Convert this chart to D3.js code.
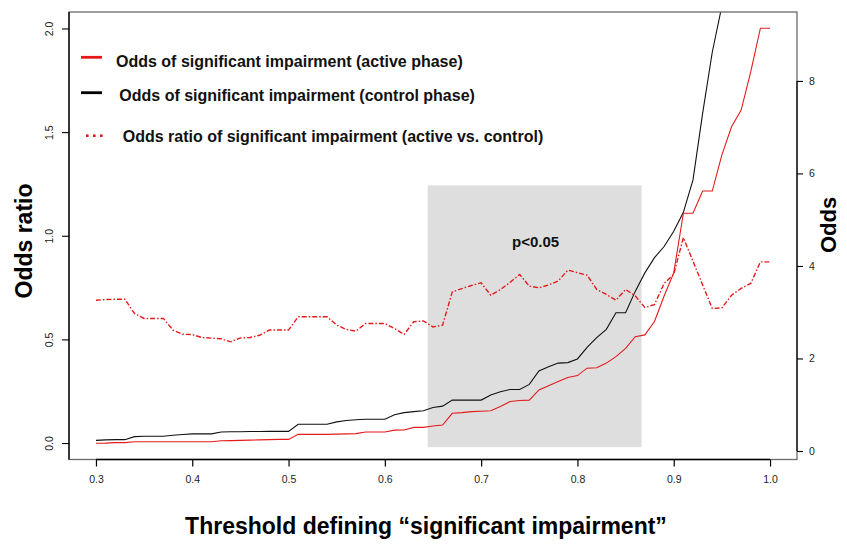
<!DOCTYPE html>
<html>
<head>
<meta charset="utf-8">
<script src="https://cdn.jsdelivr.net/npm/d3@7"></script>
<style>
  html, body { margin: 0; padding: 0; background: #fff; }
  svg { display: block; font-family: "Liberation Sans", Arial, Helvetica, sans-serif; }
</style>
</head>
<body>
<svg id="chart" width="847" height="552"></svg>
<script>
// ---------------- data ----------------
const thresholds = [0.30,0.31,0.32,0.33,0.34,0.35,0.36,0.37,0.38,0.39,
  0.40,0.41,0.42,0.43,0.44,0.45,0.46,0.47,0.48,0.49,
  0.50,0.51,0.52,0.53,0.54,0.55,0.56,0.57,0.58,0.59,
  0.60,0.61,0.62,0.63,0.64,0.65,0.66,0.67,0.68,0.69,
  0.70,0.71,0.72,0.73,0.74,0.75,0.76,0.77,0.78,0.79,
  0.80,0.81,0.82,0.83,0.84,0.85,0.86,0.87,0.88,0.89,
  0.90,0.91,0.92,0.93,0.94,0.95,0.96,0.97,0.98,0.99,1.00];

// Odds of significant impairment, active phase (right axis)
const oddsActive = [0.166,0.17,0.18,0.18,0.20,0.20,0.20,0.20,0.20,0.20,
  0.20,0.20,0.20,0.22,0.225,0.23,0.235,0.24,0.245,0.25,
  0.25,0.36,0.36,0.36,0.36,0.365,0.37,0.375,0.41,0.41,
  0.41,0.45,0.455,0.51,0.51,0.54,0.56,0.815,0.83,0.85,
  0.86,0.87,0.96,1.07,1.09,1.10,1.32,1.41,1.50,1.59,
  1.63,1.79,1.80,1.90,2.04,2.22,2.47,2.51,2.80,3.35,
  3.85,5.14,5.14,5.62,5.62,6.40,7.01,7.37,8.20,9.14,9.14];

// Odds of significant impairment, control phase (right axis)
const oddsControl = [0.23,0.24,0.245,0.245,0.31,0.32,0.32,0.32,0.34,0.355,
  0.37,0.37,0.37,0.41,0.415,0.415,0.42,0.42,0.425,0.425,
  0.425,0.577,0.577,0.577,0.577,0.63,0.66,0.675,0.685,0.685,
  0.685,0.785,0.83,0.85,0.87,0.94,0.97,1.10,1.10,1.10,
  1.10,1.21,1.28,1.33,1.33,1.44,1.73,1.82,1.90,1.91,
  1.99,2.24,2.45,2.63,2.99,2.99,3.45,3.85,4.18,4.42,
  4.75,5.16,5.86,7.30,8.62,9.62,9.83,9.88,10.65,10.46,10.46];

// Odds ratio (active vs. control) (left axis)
const oddsRatio = [0.689,0.692,0.694,0.694,0.625,0.601,0.601,0.601,0.545,0.525,
  0.523,0.509,0.506,0.503,0.488,0.507,0.509,0.520,0.545,0.545,
  0.545,0.609,0.609,0.609,0.609,0.569,0.548,0.540,0.577,0.577,
  0.577,0.552,0.524,0.585,0.589,0.560,0.569,0.729,0.745,0.760,
  0.773,0.713,0.740,0.775,0.813,0.757,0.749,0.762,0.782,0.834,
  0.822,0.810,0.741,0.717,0.689,0.741,0.710,0.654,0.668,0.770,
  0.814,0.991,0.877,0.763,0.649,0.652,0.713,0.746,0.770,0.874,0.874];

const xTicks = [0.3,0.4,0.5,0.6,0.7,0.8,0.9,1.0];
const leftTicks = [0.0,0.5,1.0,1.5,2.0];
const rightTicks = [0,2,4,6,8];

// significance band (threshold range and left-axis extent)
const bandX = [0.6445, 0.8666];
const bandY = [-0.02, 1.243];
const bandLabel = "p<0.05";

const legendItems = [
  {label: "Odds of significant impairment (active phase)", kind: "active"},
  {label: "Odds of significant impairment (control phase)", kind: "control"},
  {label: "Odds ratio of significant impairment (active vs. control)", kind: "ratio"}
];

// ---------------- layout ----------------
const RED = "#e31b1b";
const box = {left: 69, right: 797, top: 12, bottom: 459.5};
const svg = d3.select("#chart");

const x = d3.scaleLinear().domain([0.272, 1.028]).range([box.left, box.right]);
const yL = d3.scaleLinear().domain([-0.0795, 2.0795]).range([box.bottom, box.top]);
const yR = d3.scaleLinear().domain([-0.184, 9.49]).range([box.bottom, box.top]);

svg.append("defs").append("clipPath").attr("id", "plotclip")
  .append("rect").attr("x", box.left).attr("y", box.top)
  .attr("width", box.right - box.left).attr("height", box.bottom - box.top);

// band
svg.append("rect")
  .attr("x", x(bandX[0])).attr("width", x(bandX[1]) - x(bandX[0]))
  .attr("y", yL(bandY[1])).attr("height", yL(bandY[0]) - yL(bandY[1]))
  .attr("fill", "#dedede");

svg.append("text")
  .attr("x", (x(bandX[0]) + x(bandX[1])) / 2 + 1).attr("y", 247)
  .attr("text-anchor", "middle").attr("font-weight", "bold").attr("font-size", 15)
  .attr("fill", "#111").text(bandLabel);

// lines
const plot = svg.append("g").attr("clip-path", "url(#plotclip)");
const lineR = (arr) => d3.line().x((d, i) => x(thresholds[i])).y(d => yR(d))(arr);
const lineL = (arr) => d3.line().x((d, i) => x(thresholds[i])).y(d => yL(d))(arr);

plot.append("path").attr("d", lineR(oddsControl))
  .attr("fill", "none").attr("stroke", "#111").attr("stroke-width", 1.1);
plot.append("path").attr("d", lineR(oddsActive))
  .attr("fill", "none").attr("stroke", RED).attr("stroke-width", 1.1);
plot.append("path").attr("d", lineL(oddsRatio))
  .attr("fill", "none").attr("stroke", RED).attr("stroke-width", 1.4)
  .attr("stroke-dasharray", "5,2,1.5,2");

// box
svg.append("rect")
  .attr("x", box.left).attr("y", box.top)
  .attr("width", box.right - box.left).attr("height", box.bottom - box.top)
  .attr("fill", "none").attr("stroke", "#6a6a6a").attr("stroke-width", 1.3);

// bottom axis
const gx = svg.append("g").attr("transform", `translate(0,${box.bottom})`)
  .call(d3.axisBottom(x).tickValues(xTicks).tickFormat(d3.format(".1f")).tickSizeInner(7).tickSizeOuter(0).tickPadding(9));
gx.select(".domain").attr("d", `M${x(0.3)},0H${x(1.0)}`).attr("stroke", "#000").attr("stroke-width", 1.6);
gx.selectAll(".tick line").attr("stroke", "#000").attr("stroke-width", 1.2);
gx.selectAll(".tick text").attr("font-size", 10.5).attr("fill", "#222").attr("font-family", "Liberation Sans, Arial, sans-serif");

// left axis
const gl = svg.append("g").attr("transform", `translate(${box.left},0)`)
  .call(d3.axisLeft(yL).tickValues(leftTicks).tickFormat(d3.format(".1f")).tickSizeInner(7).tickSizeOuter(0));
gl.select(".domain").attr("d", `M0,${box.top}V${box.bottom}`).attr("stroke", "#000").attr("stroke-width", 1.3);
gl.selectAll(".tick line").attr("stroke", "#000").attr("stroke-width", 1.1);
gl.selectAll(".tick text")
  .attr("font-size", 10.5).attr("fill", "#222").attr("font-family", "Liberation Sans, Arial, sans-serif")
  .attr("x", null).attr("dy", null).attr("text-anchor", "middle")
  .attr("transform", "translate(-16,0) rotate(-90)");

// right axis
const gr = svg.append("g").attr("transform", `translate(${box.right},0)`)
  .call(d3.axisRight(yR).tickValues(rightTicks).tickFormat(d3.format("d")).tickSizeInner(6).tickSizeOuter(0).tickPadding(6));
gr.select(".domain").attr("d", `M0,${yR(0)}V${yR(8)}`).attr("stroke", "#000").attr("stroke-width", 1.2);
gr.selectAll(".tick line").attr("stroke", "#000").attr("stroke-width", 1.1);
gr.selectAll(".tick text").attr("font-size", 10.5).attr("fill", "#222").attr("font-family", "Liberation Sans, Arial, sans-serif");

// axis titles
svg.append("text").attr("transform", "translate(32,241) rotate(-90)")
  .attr("text-anchor", "middle").attr("font-weight", "bold").attr("font-size", 23)
  .attr("fill", "#000").text("Odds ratio");
svg.append("text").attr("transform", "translate(836,225) rotate(-90)")
  .attr("text-anchor", "middle").attr("font-weight", "bold").attr("font-size", 22)
  .attr("fill", "#000").text("Odds");
svg.append("text").attr("x", 426).attr("y", 534)
  .attr("text-anchor", "middle").attr("font-weight", "bold").attr("font-size", 23)
  .attr("fill", "#000").text("Threshold defining \u201Csignificant impairment\u201D");

// legend
const legendPos = [
  {ly: 57.3, tx: 116, ty: 66.5},
  {ly: 92.7, tx: 119.3, ty: 100.5},
  {ly: 135.7, tx: 122.7, ty: 141.5}
];
legendItems.forEach((it, i) => {
  const p = legendPos[i];
  if (it.kind === "ratio") {
    [0, 1, 2].forEach(k => {
      svg.append("rect").attr("x", 86 + k * 7).attr("y", p.ly - 1.3)
        .attr("width", 2.6).attr("height", 2.6).attr("fill", RED);
    });
  } else {
    svg.append("line").attr("x1", 81).attr("x2", 102).attr("y1", p.ly).attr("y2", p.ly)
      .attr("stroke", it.kind === "active" ? RED : "#000").attr("stroke-width", 2.8);
  }
  svg.append("text").attr("x", p.tx).attr("y", p.ty)
    .attr("font-weight", "bold").attr("font-size", 16).attr("fill", "#111").text(it.label);
});
</script>
</body>
</html>
